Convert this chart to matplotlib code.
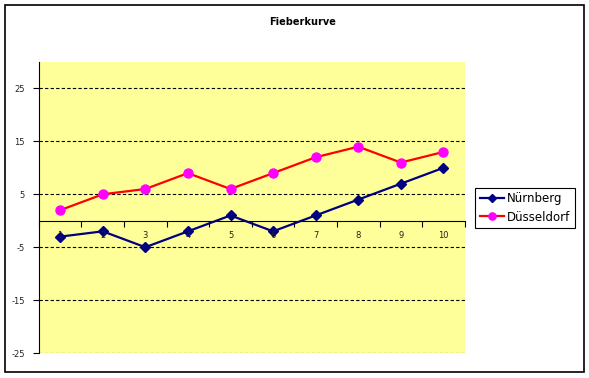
import matplotlib
matplotlib.use('Agg')
import matplotlib.pyplot as plt
from matplotlib.patches import Rectangle

# chart data
days = [1, 2, 3, 4, 5, 6, 7, 8, 9, 10]
nuernberg = [-3, -2, -5, -2, 1, -2, 1, 4, 7, 10]
duesseldorf = [2, 5, 6, 9, 6, 9, 12, 14, 11, 13]
y_ticks = [-25, -15, -5, 5, 15, 25]

fig = plt.figure(figsize=(5.89, 3.78), dpi=100)
fig.patches.append(Rectangle((0.009, 0.016), 0.983, 0.971, transform=fig.transFigure,
                             fill=False, edgecolor='black', linewidth=1.2))

ax = fig.add_axes([0.066, 0.066, 0.723, 0.770])
ax.set_facecolor('#FFFF99')

ax.plot(days, nuernberg, color='#000080', marker='D', markersize=5,
        linewidth=1.6, label='Nürnberg', zorder=3)
ax.plot(days, duesseldorf, color='#FF0000', marker='o', markersize=6.5,
        markerfacecolor='#FF00FF', markeredgecolor='#FF00FF',
        linewidth=1.6, label='Düsseldorf', zorder=3)

ax.set_xlim(0.5, 10.5)
ax.set_ylim(-25, 30)
ax.set_yticks(y_ticks)
ax.set_yticklabels([str(v) for v in y_ticks], fontsize=6, color='#222222')
ax.yaxis.grid(True, linestyle=(0, (3, 2)), color='black', linewidth=0.8)
ax.set_axisbelow(True)

# category axis crossing at zero, ticks between categories
ax.spines['bottom'].set_position(('data', 0))
ax.spines['top'].set_visible(False)
ax.spines['right'].set_visible(False)
ax.set_xticks([d + 0.5 for d in days[:-1]] + [0.5, 10.5])
ax.set_xticklabels([])
ax.tick_params(axis='x', direction='out', length=4, width=0.8)
ax.tick_params(axis='y', direction='out', length=4, width=0.8, pad=6)
for d in days:
    ax.text(d, -1.9, str(d), ha='center', va='top', fontsize=6, color='#222222')

fig.text(0.513, 0.942, 'Fieberkurve', ha='center', va='center', fontsize=7,
         fontweight='bold')

leg = fig.legend(loc='center left', bbox_to_anchor=(0.807, 0.45), fontsize=8.5,
                 frameon=True, fancybox=False, framealpha=1, edgecolor='black',
                 handlelength=2.0, handletextpad=0.25, borderpad=0.4,
                 labelspacing=0.45, borderaxespad=0, markerscale=0.8)
leg.get_frame().set_linewidth(0.8)

fig.savefig('out.png', dpi=100)
